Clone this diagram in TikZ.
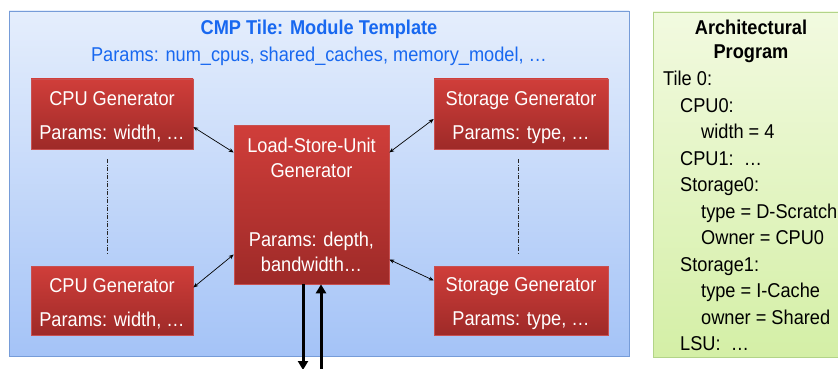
\documentclass[tikz,border=0pt]{standalone}
\usepackage{fontspec}
\setmainfont{Liberation Sans}[FakeStretch=0.91]
\usetikzlibrary{calc,arrows.meta}

\definecolor{redtop}{RGB}{208,62,58}
\definecolor{redbot}{RGB}{158,42,40}
\definecolor{redline}{RGB}{200,80,80}
\definecolor{bluetop}{RGB}{229,238,252}
\definecolor{bluebot}{RGB}{164,195,247}
\definecolor{blueline}{RGB}{118,156,216}
\definecolor{greentop}{RGB}{242,250,224}
\definecolor{greenbot}{RGB}{212,239,166}
\definecolor{greenline}{RGB}{178,212,136}
\definecolor{titleblue}{RGB}{24,104,240}

\newcommand{\toppad}{\rule{0pt}{20.5pt}}

\tikzset{
  gen/.style={draw=redline, line width=0.6pt, top color=redtop, bottom color=redbot,
    text=white, align=center, inner sep=0pt,
    font=\fontsize{20}{24}\selectfont},
  link/.style={{Stealth[length=5pt,width=4pt]}-{Stealth[length=5pt,width=4pt]}, line width=0.7pt},
  bus/.style={-{Triangle[length=9pt,width=10pt]}, line width=3pt},
  elide/.style={dash pattern=on 4pt off 1.5pt on 1pt off 1.5pt, line width=0.7pt, black!85},
}

\begin{document}
\begin{tikzpicture}[x=1pt,y=-1pt]
\useasboundingbox (0,0) rectangle (838,369);

% template frame
\node[draw=blueline, line width=0.8pt, top color=bluetop, bottom color=bluebot,
  minimum width=620pt, minimum height=345pt, inner sep=0pt] (tile) at (319,183.5) {};
\node[text=titleblue, font=\bfseries\fontsize{20}{22}\selectfont] (ttl) at (319,29) {CMP Tile: Module Template};
\node[text=titleblue, font=\fontsize{20}{22}\selectfont] (tprm) at (319,56) {Params: num\_cpus, shared\_caches, memory\_model, …};

% generators
\node[gen, minimum width=162pt, minimum height=70pt] (cpuA) at (112,114)
  {\toppad CPU Generator\\[10pt]Params: width, …};
\node[gen, minimum width=162pt, minimum height=69pt] (cpuB) at (112,300.5)
  {\toppad CPU Generator\\[10pt]Params: width, …};
\node[gen, minimum width=174pt, minimum height=70pt] (stoA) at (521,114)
  {\toppad Storage Generator\\[10pt]Params: type, …};
\node[gen, minimum width=174pt, minimum height=69pt] (stoB) at (521,300.5)
  {\toppad Storage Generator\\[10pt]Params: type, …};
\node[gen, minimum width=155pt, minimum height=159pt] (lsu) at (311.5,204.5)
  {Load-Store-Unit\\[1pt]Generator\\[45pt]Params: depth,\\[1pt]bandwidth…};

% links between generators
\draw[link] ($(cpuA.east)+(0,13)$) -- ($(lsu.west)+(0,-52)$);
\draw[link] ($(lsu.east)+(0,-52)$) -- ($(stoA.west)+(0,5)$);
\draw[link] ($(cpuB.east)+(0,-13)$) -- ($(lsu.west)+(0,50)$);
\draw[link] ($(lsu.east)+(0,55)$) -- ($(stoB.west)+(0,-20)$);

% elided generators
\draw[elide] ($(cpuA.south)+(-5,10)$) -- ($(cpuB.north)+(-5,-12)$);
\draw[elide] ($(stoA.south)+(-3,10)$) -- ($(stoB.north)+(-3,-12)$);

% memory bus
\coordinate (busout) at (311.5,370);
\draw[bus] ($(lsu.south)+(-8.5,0)$) -- (busout -| {$(lsu.south)+(-8.5,0)$});
\draw[bus] (busout -| {$(lsu.south)+(9.5,0)$}) -- ($(lsu.south)+(9.5,0)$);

% architectural program
\node[draw=greenline, line width=0.8pt, top color=greentop, bottom color=greenbot,
  minimum width=196pt, minimum height=345pt, inner sep=0pt] (prog) at (751,184.5) {};
\node[font=\bfseries\fontsize{20}{24}\selectfont, align=center] (phead) at (751,41)
  {Architectural\\Program};
\node[font=\fontsize{20}{26.5}\selectfont, align=left, anchor=north west, inner sep=0pt] (pbody) at (663,71)
  {Tile 0:\\
   \hspace*{17pt}CPU0:\\
   \hspace*{38pt}width = 4\\
   \hspace*{17pt}CPU1:\ \ …\\
   \hspace*{17pt}Storage0:\\
   \hspace*{38pt}type = D-Scratch\\
   \hspace*{38pt}Owner = CPU0\\
   \hspace*{17pt}Storage1:\\
   \hspace*{38pt}type = I-Cache\\
   \hspace*{38pt}owner = Shared\\
   \hspace*{17pt}LSU:\ \ …};
\end{tikzpicture}
\end{document}
